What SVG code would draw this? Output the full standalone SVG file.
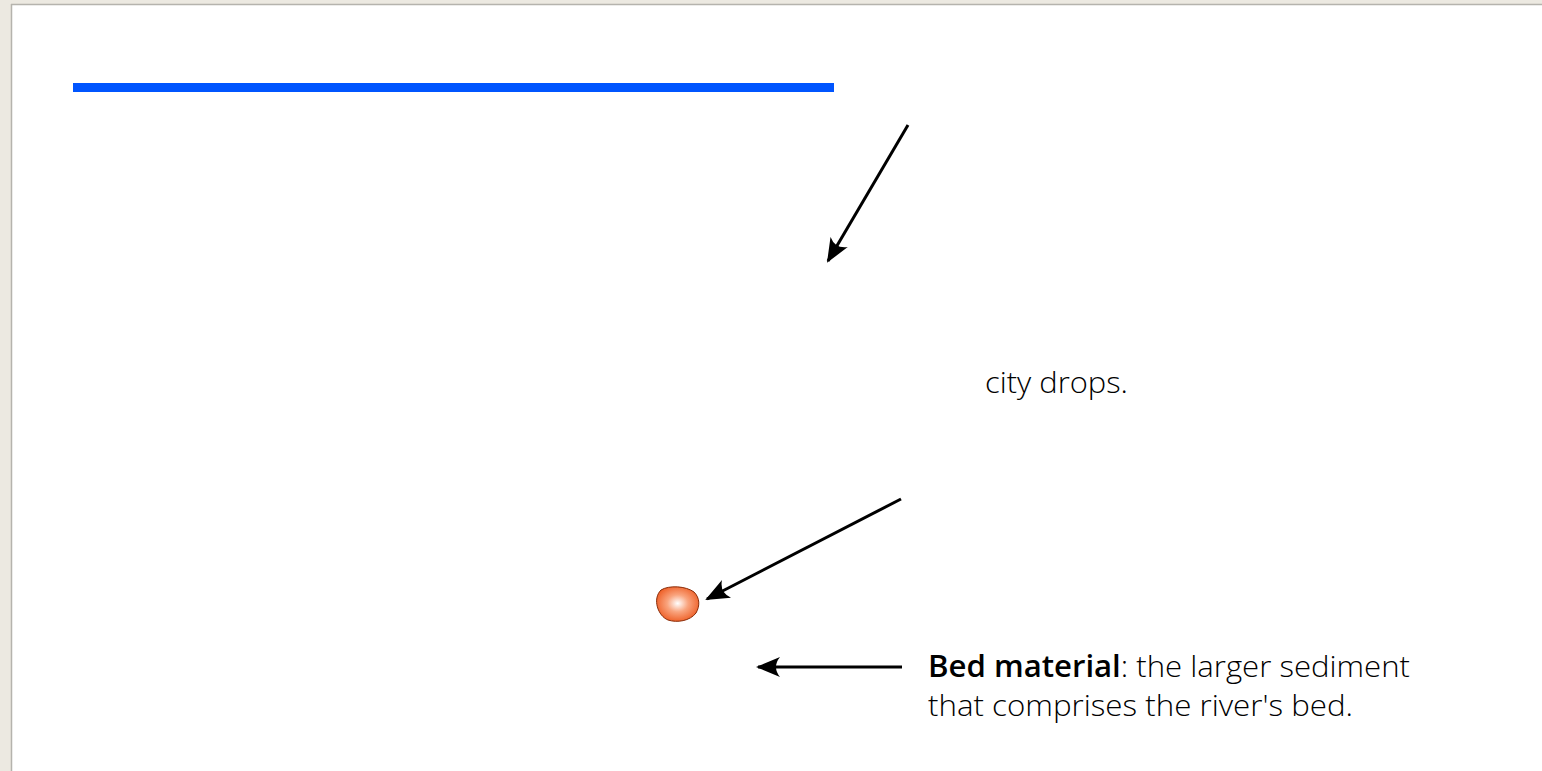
<svg xmlns="http://www.w3.org/2000/svg" width="1542" height="771" viewBox="0 0 1542 771">
  <style>
    .conn { stroke: #000; stroke-width: 3; fill: none; marker-end: url(#barb); }
    .label { font-family: "Open Sans", Lato, "Noto Sans", sans-serif; font-size: 30px; font-weight: 300; fill: #000; }
    .label .term { font-weight: 600; }
  </style>
  <defs>
    <marker id="barb" viewBox="0 0 24 20" refX="22" refY="10" markerWidth="24" markerHeight="20" markerUnits="userSpaceOnUse" orient="auto">
      <path d="M0,0 L24,10 L0,20 Q8,10 0,0 Z" fill="#000"/>
    </marker>
    <radialGradient id="pebbleFill" cx="0.5" cy="0.48" r="0.55">
      <stop offset="0" stop-color="#ffffff"/>
      <stop offset="0.45" stop-color="#f9a47e"/>
      <stop offset="1" stop-color="#ee5e25"/>
    </radialGradient>
  </defs>

  <!-- window frame -->
  <rect x="0" y="0" width="1542" height="771" fill="#ece9e1"/>
  <rect x="11" y="4" width="1531" height="767" fill="#ffffff"/>
  <line x1="11.5" y1="4" x2="11.5" y2="771" stroke="#b5b3ad" stroke-width="1.5"/>
  <line x1="11" y1="4.5" x2="1542" y2="4.5" stroke="#b5b3ad" stroke-width="1.5"/>

  <!-- title rule -->
  <rect x="73" y="83" width="761" height="9" fill="#0055ff"/>

  <g id="connectors">
    <line class="conn" x1="908" y1="125" x2="828" y2="261"/>
    <line class="conn" x1="901" y1="499" x2="707" y2="599"/>
    <line class="conn" x1="902" y1="667" x2="758" y2="667"/>
  </g>

  <g id="pebble">
    <path d="M661,590 C669,585 686,586 694,592 C700,598 700,606 696,613 C690,621 677,623 668,620 C658,616 652,599 661,590 Z" fill="url(#pebbleFill)" stroke="#8a2c08" stroke-width="1"/>
  </g>

  <g id="label-city">
    <text class="label" x="985" y="393" textLength="143" lengthAdjust="spacingAndGlyphs">city drops.</text>
  </g>

  <g id="label-bed">
    <text class="label" x="928" y="677" textLength="482" lengthAdjust="spacingAndGlyphs"><tspan class="term">Bed material</tspan>: the larger sediment</text>
    <text class="label" x="928" y="716" textLength="425" lengthAdjust="spacingAndGlyphs">that comprises the river's bed.</text>
  </g>
</svg>
